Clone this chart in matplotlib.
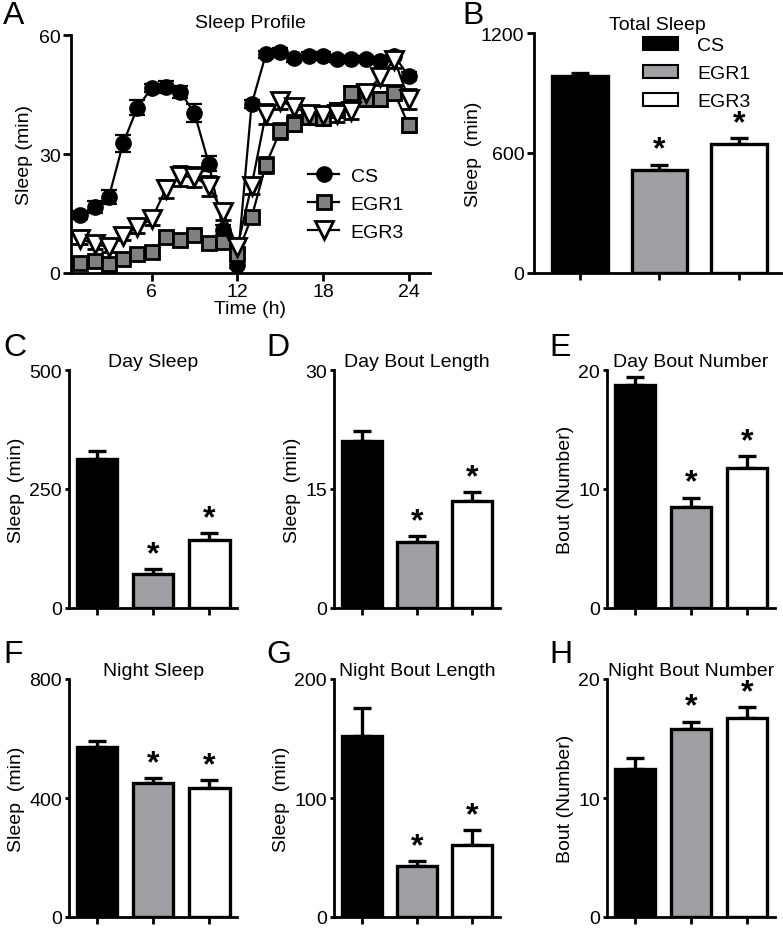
import matplotlib
matplotlib.use("Agg")
import matplotlib.pyplot as plt
from matplotlib.lines import Line2D
from matplotlib.patches import Patch

plt.rcParams['font.family'] = ['Liberation Sans', 'DejaVu Sans']
plt.rcParams['font.size'] = 14

W, H = 783, 929

# sleep profile (min of sleep per hour)
hours = list(range(1, 25))
cs_profile = [14.6, 16.7, 19.1, 32.7, 41.7, 46.6, 47.0, 45.7, 40.3, 27.6, 10.9, 2.1,
              42.5, 55.1, 55.8, 54.1, 54.8, 54.8, 54.0, 54.0, 54.0, 53.4, 54.8, 49.6]
cs_err = [1.0, 1.5, 1.8, 2.2, 1.8, 1.0, 1.5, 1.5, 2.3, 2.0, 1.2, 0.8,
          1.0, 0.8, 0.8, 0.8, 0.8, 0.8, 0.8, 0.8, 0.8, 0.8, 0.8, 1.0]
egr1_profile = [2.4, 2.9, 2.3, 3.5, 4.8, 5.2, 9.2, 8.2, 9.6, 7.5, 7.7, 4.8,
                14.0, 27.3, 35.7, 37.6, 39.3, 39.2, 41.1, 45.3, 43.9, 43.9, 45.5, 37.3]
egr1_err = [1.0, 1.0, 1.0, 1.0, 1.0, 1.0, 1.2, 1.2, 1.2, 1.2, 1.2, 1.0,
            1.5, 2.0, 2.0, 1.8, 1.8, 1.8, 1.8, 1.8, 1.8, 1.8, 1.8, 1.8]
egr3_profile = [8.6, 7.3, 6.5, 9.4, 11.5, 13.6, 21.2, 24.5, 24.1, 22.0, 15.3, 6.5,
                22.0, 40.1, 43.4, 41.8, 40.1, 39.8, 40.1, 40.9, 45.5, 49.3, 53.8, 43.9]
egr3_err = [1.2, 1.2, 1.2, 1.2, 1.5, 1.5, 2.2, 2.5, 2.5, 2.5, 2.0, 1.2,
            2.0, 2.5, 2.0, 2.0, 2.0, 2.0, 2.0, 2.0, 2.0, 2.0, 2.0, 2.5]

groups = ["CS", "EGR1", "EGR3"]
total_sleep = [983, 517, 644]
total_sleep_err = [19, 25, 30]
day_sleep = [313, 72, 143]
day_sleep_err = [16, 10, 15]
day_bout_len = [21.0, 8.3, 13.5]
day_bout_len_err = [1.3, 0.75, 1.1]
day_bout_num = [18.7, 8.46, 11.8]
day_bout_num_err = [0.73, 0.81, 0.98]
night_sleep = [573, 452, 435]
night_sleep_err = [20, 16, 24]
night_bout_len = [152.4, 42.5, 60.7]
night_bout_len_err = [23, 4.5, 12]
night_bout_num = [12.45, 15.78, 16.73]
night_bout_num_err = [0.9, 0.64, 0.9]
significant = [False, True, True]

bar_colors = ["black", "#a0a0a4", "white"]


def px_axes(fig, left, right, top, bottom):
    return fig.add_axes([left / W, 1 - bottom / H, (right - left) / W, (bottom - top) / H])


def style_axes(ax, ticklen=3):
    for side in ("top", "right"):
        ax.spines[side].set_visible(False)
    for side in ("left", "bottom"):
        ax.spines[side].set_linewidth(2)
    ax.tick_params(width=2, length=ticklen, pad=2, labelsize=14)


def bar_panel(ax, values, errs, ticks, title, ylabel, xlim=(-0.5, 2.5), width=0.72,
              title_pad=2, label_pad=3):
    x = list(range(len(values)))
    ax.bar(x, values, width=width, color=bar_colors, edgecolor="black", linewidth=2.4, zorder=2)
    ax.errorbar(x, values, yerr=[[0] * len(errs), errs], fmt="none", ecolor="black",
                elinewidth=2.4, capsize=6.5, capthick=2.4, zorder=1)
    for xi, v, e, s in zip(x, values, errs, significant):
        if s:
            ax.annotate("*", (xi, v + e), xytext=(0, 0), textcoords="offset points",
                        ha="center", va="bottom", fontsize=23, fontweight="bold")
    ax.set_xlim(*xlim)
    ax.set_ylim(0, ticks[-1])
    ax.set_yticks(ticks)
    ax.set_xticks(x)
    ax.set_xticklabels([])
    ax.set_title(title, fontsize=14, pad=title_pad)
    ax.set_ylabel(ylabel, fontsize=14, labelpad=label_pad)
    style_axes(ax)
    ax.tick_params(axis="x", length=5)


fig = plt.figure(figsize=(W / 100, H / 100), dpi=100)

# A: sleep profile
ax = px_axes(fig, 71, 430, 36, 274)
ax.errorbar(hours, cs_profile, yerr=cs_err, color="black", marker="o", ms=11,
            mfc="black", mec="black", lw=1.6, elinewidth=1.6, capsize=5.5, capthick=1.6)
ax.errorbar(hours, egr1_profile, yerr=egr1_err, color="black", marker="s", ms=10.5,
            mfc="#808080", mec="black", mew=2, lw=1.6, elinewidth=1.6, capsize=5.5, capthick=1.6)
ax.errorbar(hours, egr3_profile, yerr=egr3_err, color="black", marker="v", ms=12.5,
            mfc="white", mec="black", mew=2, lw=1.6, elinewidth=1.6, capsize=5.5, capthick=1.6)
ax.set_xlim(0.35, 25.5)
ax.set_ylim(0, 60)
ax.set_xticks([6, 12, 18, 24])
ax.set_yticks([0, 30, 60])
ax.set_xlabel("Time (h)", fontsize=14, labelpad=0)
ax.set_ylabel("Sleep (min)", fontsize=14, labelpad=4)
ax.set_title("Sleep Profile", fontsize=14, pad=6)
style_axes(ax, ticklen=5.5)
handles = [
    Line2D([], [], color="black", lw=1.6, marker="o", ms=11, mfc="black", mec="black"),
    Line2D([], [], color="black", lw=1.6, marker="s", ms=10.5, mfc="#808080", mec="black", mew=2),
    Line2D([], [], color="black", lw=1.6, marker="v", ms=12.5, mfc="white", mec="black", mew=2),
]
ax.legend(handles, groups, loc="upper left", bbox_to_anchor=(308 / W, 1 - 168 / H),
          bbox_transform=fig.transFigure, frameon=False, fontsize=14, handlelength=1.6,
          handletextpad=0.6, labelspacing=0.55, borderpad=0, borderaxespad=0)

# B: total sleep
ax = px_axes(fig, 534, 781, 34, 274)
bar_panel(ax, total_sleep, total_sleep_err, [0, 600, 1200], "Total Sleep", "Sleep  (min)",
          xlim=(-0.58, 2.53), width=0.7, title_pad=1, label_pad=-1)
ax.tick_params(axis="y", length=5)
patches = [Patch(facecolor=c, edgecolor="black", linewidth=1.5) for c in bar_colors]
ax.legend(patches, groups, loc="upper left", bbox_to_anchor=(643 / W, 1 - 38 / H),
          bbox_transform=fig.transFigure, frameon=False, fontsize=14, handlelength=1.8,
          handleheight=0.65, handletextpad=1.0, labelspacing=0.55, borderpad=0, borderaxespad=0)

# C-E: day
row2 = (371, 609)
ax = px_axes(fig, 69, 237.5, *row2)
bar_panel(ax, day_sleep, day_sleep_err, [0, 250, 500], "Day Sleep", "Sleep  (min)")
ax = px_axes(fig, 334, 500, *row2)
bar_panel(ax, day_bout_len, day_bout_len_err, [0, 15, 30], "Day Bout Length", "Sleep  (min)")
ax = px_axes(fig, 607, 775, *row2)
bar_panel(ax, day_bout_num, day_bout_num_err, [0, 10, 20], "Day Bout Number", "Bout (Number)")

# F-H: night
row3 = (680, 918)
ax = px_axes(fig, 69, 237.5, *row3)
bar_panel(ax, night_sleep, night_sleep_err, [0, 400, 800], "Night Sleep", "Sleep  (min)")
ax = px_axes(fig, 334, 500, *row3)
bar_panel(ax, night_bout_len, night_bout_len_err, [0, 100, 200], "Night Bout Length", "Sleep  (min)")
ax = px_axes(fig, 607, 775, *row3)
bar_panel(ax, night_bout_num, night_bout_num_err, [0, 10, 20], "Night Bout Number", "Bout (Number)")

# panel letters
letters = [("A", 3, 1), ("B", 462, 1), ("C", 3, 333), ("D", 266, 333), ("E", 549, 333),
           ("F", 3, 640), ("G", 266, 640), ("H", 549, 640)]
for letter, lx, ly in letters:
    fig.text(lx / W, 1 - ly / H, letter, fontsize=23, ha="left", va="top")

fig.savefig("out.png", dpi=100)
